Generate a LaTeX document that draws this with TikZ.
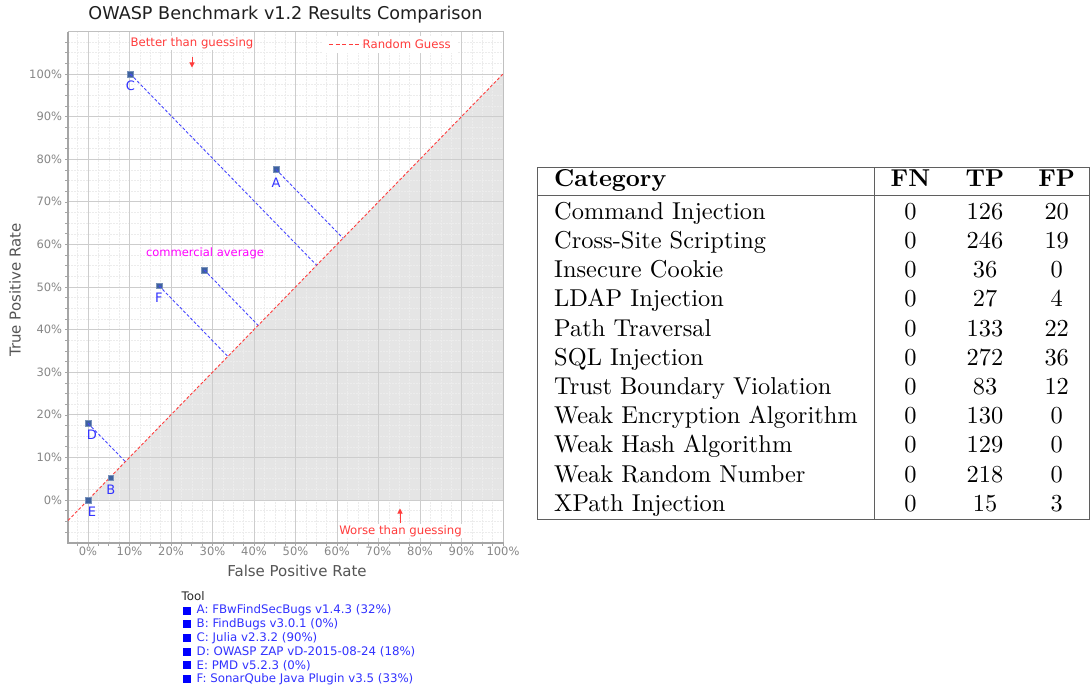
\documentclass[tikz,border=0pt]{standalone}
\usepackage{fontspec}
\usepackage{graphicx}
\newfontfamily\dv{DejaVu Sans}
\usetikzlibrary{arrows.meta}
\definecolor{gridmaj}{RGB}{205,205,205}
\definecolor{gridmin}{RGB}{236,236,236}
\definecolor{shadecol}{RGB}{229,229,229}
\definecolor{ptcol}{RGB}{62,98,158}
\definecolor{lblblue}{RGB}{50,50,255}
\definecolor{legblue}{RGB}{0,0,255}
\definecolor{ticklbl}{RGB}{135,135,135}
\definecolor{axlbl}{RGB}{85,85,85}
\definecolor{axline}{RGB}{165,165,165}
\definecolor{rgred}{RGB}{255,60,60}
\definecolor{magent}{RGB}{255,0,255}
\definecolor{dashblue}{RGB}{70,70,255}
\definecolor{rulecol}{RGB}{95,95,95}
\newcommand{\tcell}[1]{\scalebox{2.44}{\fontsize{10}{12}\selectfont #1}}
\begin{document}
\begin{tikzpicture}[x=1pt,y=-1pt,
  ticktxt/.style={font=\dv\fontsize{11.5}{13}\selectfont, text=ticklbl, inner sep=0pt},
  axtxt/.style={font=\dv\fontsize{15}{17}\selectfont, text=axlbl, inner sep=0pt},
  annot/.style={font=\dv\fontsize{11.7}{14}\selectfont, text=rgred, inner sep=1pt, fill=white},
  redarrow/.style={draw=rgred, line width=1pt, -{Triangle[length=5pt,width=5pt]}},
  ptnode/.style={rectangle, minimum size=5.5pt, inner sep=0pt, fill=ptcol, draw=ptcol!70!white, line width=0.4pt},
  ptlbl/.style={font=\dv\fontsize{13}{15}\selectfont, text=lblblue, inner sep=0pt, anchor=north},
  bluedash/.style={draw=dashblue, line width=0.9pt, dash pattern=on 3pt off 2pt},
  legsq/.style={rectangle, minimum size=8pt, inner sep=0pt, fill=legblue},
  legtxt/.style={font=\dv\fontsize{11.8}{14}\selectfont, text=lblblue, inner sep=0pt, anchor=west},
  tabtxt/.style={inner sep=0pt, anchor=base west},
  tabnum/.style={inner sep=0pt, anchor=base},
  tabrule/.style={draw=rulecol, line width=1pt}
]
\useasboundingbox (0,0) rectangle (1091,690);
\fill[white] (0,0) rectangle (1091,690);

% title
\node[font=\dv\fontsize{17.6}{20}\selectfont, text=black!88, inner sep=0pt] (title) at (285.5,14.5) {OWASP Benchmark v1.2 Results Comparison};

% ---------------- chart (data coordinates in percent) ----------------
\begin{scope}[shift={(88,500)}, x=4.15pt, y=4.26pt]
  % shaded "worse" region
  \fill[shadecol] (0,0) -- (100.2,0) -- (100.2,100.2) -- cycle;
  % minor grid
  \foreach \v in {-2.5,2.5,5,7.5,12.5,15,17.5,22.5,25,27.5,32.5,35,37.5,42.5,45,47.5,52.5,55,57.5,62.5,65,67.5,72.5,75,77.5,82.5,85,87.5,92.5,95,97.5}
    \draw[gridmin, line width=0.5pt, dash pattern=on 2pt off 1pt] (\v,-10.1) -- (\v,109.9);
  \foreach \v in {-7.5,-5,-2.5,2.5,5,7.5,12.5,15,17.5,22.5,25,27.5,32.5,35,37.5,42.5,45,47.5,52.5,55,57.5,62.5,65,67.5,72.5,75,77.5,82.5,85,87.5,92.5,95,97.5,102.5,105,107.5}
    \draw[gridmin, line width=0.5pt, dash pattern=on 2pt off 1pt] (-4.8,\v) -- (100.2,\v);
  % major grid
  \foreach \v in {0,10,...,90}
    \draw[gridmaj, line width=0.9pt] (\v,-10.1) -- (\v,109.9);
  \foreach \v in {0,10,...,100}
    \draw[gridmaj, line width=0.9pt] (-4.8,\v) -- (100.2,\v);
  % frame
  \coordinate (bl) at (-4.8,-10.1);
  \coordinate (br) at (100.2,-10.1);
  \coordinate (tl) at (-4.8,109.9);
  \coordinate (tr) at (100.2,109.9);
  \draw[axline!70!white, line width=0.9pt] (tl) -- (tr) -- (br);
  \draw[axline, line width=1.4pt] (tl) -- (bl) -- (br);
  % ticks
  \foreach \v in {-7.5,-5,...,107.5}
    \draw[axline, line width=0.6pt] (-4.8,\v) -- ++(-3pt,0);
  \foreach \v in {-2.5,0,...,100}
    \draw[axline, line width=0.6pt] (\v,-10.1) -- ++(0,-3pt);
  % tick labels
  \foreach \v in {0,10,...,100}
    \node[ticktxt] (xl\v) at (\v,-12) {\v\%};
  \foreach \v in {0,10,...,100}
    \node[ticktxt, anchor=east] (yl\v) at (-6.2,\v) {\v\%};
  % random guess line
  \coordinate (rg0) at (-4.8,-4.8);
  \coordinate (rg1) at (100,100);
  \draw[rgred, line width=0.9pt, dash pattern=on 3pt off 2pt] (rg0) -- (rg1);
  % points
  \node[ptnode] (C) at (10.2,100) {};
  \node[ptnode] (A) at (45.3,77.6) {};
  \node[ptnode] (avg) at (28,54) {};
  \node[ptnode] (F) at (17.1,50.3) {};
  \node[ptnode] (D) at (0,18) {};
  \node[ptnode] (B) at (5.5,5.2) {};
  \node[ptnode] (E) at (0,0) {};
  \coordinate (Cf) at (55.1,55.1);
  \coordinate (Af) at (61.45,61.45);
  \coordinate (avgf) at (41,41);
  \coordinate (Ff) at (33.7,33.7);
  \coordinate (Df) at (9,9);
  \draw[bluedash] (C.center) -- (Cf);
  \draw[bluedash] (A.center) -- (Af);
  \draw[bluedash] (avg.center) -- (avgf);
  \draw[bluedash] (F.center) -- (Ff);
  \draw[bluedash] (D.center) -- (Df);
  \node[ptlbl] (Cl) at ([yshift=-4pt]C.south) {C};
  \node[ptlbl] (Al) at ([yshift=-5pt]A.south) {A};
  \node[ptlbl] (Fl) at ([yshift=-4pt]F.south) {F};
  \node[ptlbl] (Dl) at ([xshift=4pt,yshift=-4pt]D.south) {D};
  \node[ptlbl] (Bl) at ([yshift=-4pt]B.south) {B};
  \node[ptlbl] (El) at ([xshift=4pt,yshift=-4pt]E.south) {E};
\end{scope}

% annotations
\node[font=\dv\fontsize{11.5}{14}\selectfont, text=magent, inner sep=0pt] (comm) at (205,253.5) {commercial average};
\node[annot] (better) at (192,43) {Better than guessing};
\coordinate (ba0) at (192,57);
\coordinate (ba1) at (192,67.5);
\draw[redarrow] (ba0) -- (ba1);
\node[annot] (worse) at (400.5,531) {Worse than guessing};
\coordinate (wa0) at (400,523);
\coordinate (wa1) at (400,508.5);
\draw[redarrow] (wa0) -- (wa1);
% random guess legend
\fill[white] (322,36) rectangle (458,53);
\coordinate (rgl0) at (329,44.5);
\coordinate (rgl1) at (362,44.5);
\draw[rgred, line width=1pt, dash pattern=on 4pt off 2.6pt] (rgl0) -- (rgl1);
\node[annot, anchor=west, inner sep=0pt] (rgtxt) at (362.5,44) {Random Guess};

% axis labels
\node[axtxt] (xlab) at (297,571) {False Positive Rate};
\node[axtxt, rotate=90] (ylab) at (15,290) {True Positive Rate};

% legend
\node[font=\dv\fontsize{11.8}{14}\selectfont, text=black!85, inner sep=0pt, anchor=west] (tool) at (181.5,595.7) {Tool};
\foreach \k/\yy/\txt in {1/610.7/{A: FBwFindSecBugs v1.4.3 (32\%)},
                       2/624.3/{B: FindBugs v3.0.1 (0\%)},
                       3/638/{C: Julia v2.3.2 (90\%)},
                       4/651.7/{D: OWASP ZAP vD-2015-08-24 (18\%)},
                       5/665.3/{E: PMD v5.2.3 (0\%)},
                       6/679/{F: SonarQube Java Plugin v3.5 (33\%)}} {
  \node[legsq] (sq\k) at (186.7,\yy) {};
  \node[legtxt] (lt\k) at (196.5,\yy) {\txt};
}

% ---------------- table ----------------
\coordinate (t1) at (537,167.3);
\coordinate (t2) at (1089.5,167.3);
\coordinate (t3) at (1089.5,519.5);
\coordinate (t4) at (537,519.5);
\draw[tabrule] (t1) -- (t2) -- (t3) -- (t4) -- cycle;
\coordinate (h1) at (537,195.8);
\coordinate (h2) at (1089.5,195.8);
\draw[tabrule] (h1) -- (h2);
\coordinate (v1) at (874.5,167.3);
\coordinate (v2) at (874.5,519.5);
\draw[tabrule] (v1) -- (v2);

\node[tabtxt] (hcat) at (554,186.7) {\tcell{\bfseries Category}};
\node[tabnum] (hfn) at (910.5,186.7) {\tcell{\bfseries FN}};
\node[tabnum] (htp) at (985,186.7) {\tcell{\bfseries TP}};
\node[tabnum] (hfp) at (1056.7,186.7) {\tcell{\bfseries FP}};

\foreach \r/\cat/\fn/\tp/\fp in {0/Command Injection/0/126/20,
    1/Cross-Site Scripting/0/246/19,
    2/Insecure Cookie/0/36/0,
    3/LDAP Injection/0/27/4,
    4/Path Traversal/0/133/22,
    5/SQL Injection/0/272/36,
    6/Trust Boundary Violation/0/83/12,
    7/Weak Encryption Algorithm/0/130/0,
    8/Weak Hash Algorithm/0/129/0,
    9/Weak Random Number/0/218/0,
    10/XPath Injection/0/15/3} {
  \pgfmathsetmacro{\yy}{219.3+29.2*\r}
  \node[tabtxt] (c\r) at (554,\yy) {\tcell{\cat}};
  \node[tabnum] (fn\r) at (910.5,\yy) {\tcell{\fn}};
  \node[tabnum] (tp\r) at (985,\yy) {\tcell{\tp}};
  \node[tabnum] (fp\r) at (1056.7,\yy) {\tcell{\fp}};
}
\end{tikzpicture}
\end{document}
